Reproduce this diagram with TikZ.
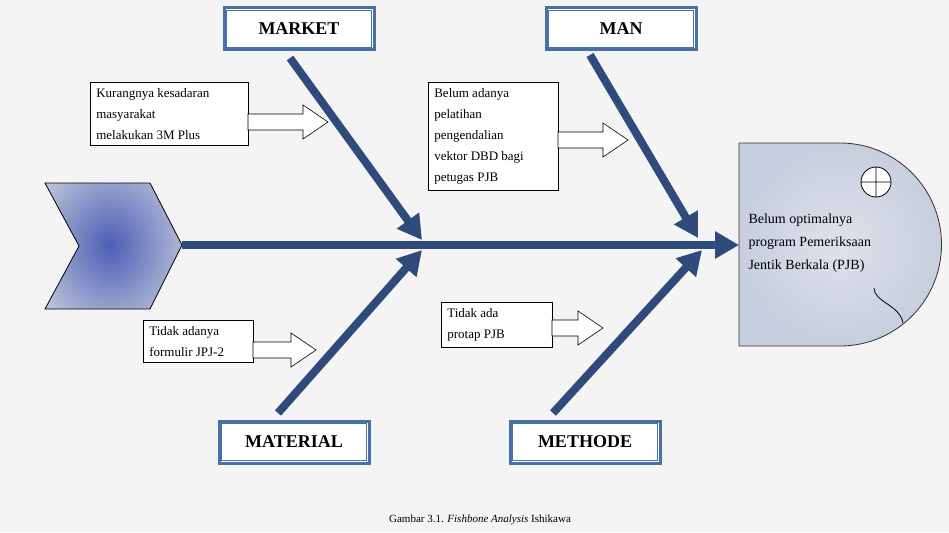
\documentclass[tikz,border=0pt]{standalone}
\usepackage{fontspec}
\setmainfont{Liberation Serif}
\usetikzlibrary{arrows.meta}
\definecolor{bone}{HTML}{2E4B7C}
\definecolor{bord}{HTML}{4A70A8}
\definecolor{headf}{HTML}{C7CEDD}
\definecolor{bg}{HTML}{F4F4F4}
\tikzset{
 bonel/.style={bone, line width=8pt, -{Triangle[length=24pt,width=26pt]}},
 cat/.style={draw=bord, line width=3pt, fill=white, minimum width=150pt, minimum height=42pt, inner sep=0pt, font=\fontsize{18}{20}\selectfont\bfseries},
 cause/.style={draw=black, line width=0.6pt, fill=white, align=flush left, anchor=north west, font=\fontsize{13}{21}\selectfont, inner sep=6pt, text width=#1},
 hollow/.style={draw=black, line width=0.6pt, fill=white}
}
\newcommand{\hollowarrow}[3]{% x1, x2, y
 \draw[hollow] (#1,#3-8) -- (#2-25,#3-8) -- (#2-25,#3-17) -- (#2,#3) -- (#2-25,#3+17) -- (#2-25,#3+8) -- (#1,#3+8) -- cycle;}
\begin{document}
\begin{tikzpicture}[x=1pt,y=-1pt]
\fill[bg] (0,0) rectangle (949,532);
\useasboundingbox (0,0) rectangle (949,532);
% tail
\begin{scope}
\clip (45,183) -- (150,183) -- (182,245) -- (150,309) -- (45,309) -- (79,246) -- cycle;
\shade[inner color=bone!70!blue!80, outer color=headf] (20,140) rectangle (200,350);
\end{scope}
\draw[line width=0.8pt] (45,183) -- (150,183) -- (182,245) -- (150,309) -- (45,309) -- (79,246) -- cycle;
\coordinate (tailtip) at (182,245);
% head
\shade[draw=black!80, line width=0.8pt, inner color=headf!60!white, outer color=headf]
 (739,143) -- (840,143) arc[start angle=-90,end angle=90,radius=101.5] -- (739,346) -- cycle;
\coordinate (headin) at (739,245);
\draw[fill=white, line width=0.8pt] (876,182) circle (15) (861,182) -- (891,182) (876,167) -- (876,197);
\draw[line width=0.8pt] (874,288) .. controls (874,302) and (900,305) .. (903,323);
\node[anchor=west, align=left, font=\fontsize{14}{23}\selectfont] (effect) at (745,243) {Belum optimalnya\\program Pemeriksaan\\Jentik Berkala (PJB)};
% spine
\draw[bonel] (tailtip) -- (headin);
% categories
\node[cat] (market) at (299,29) {MARKET};
\node[cat] (man) at (621,29) {MAN};
\node[cat] (material) at (294,442) {MATERIAL};
\node[cat] (methode) at (585,442) {METHODE};
\foreach \n in {market,man,material,methode}{
 \draw[bord, line width=0.8pt] ([xshift=4pt,yshift=-4pt]\n.north west) rectangle ([xshift=-4pt,yshift=4pt]\n.south east);}
\coordinate (j1) at (422,240);
\coordinate (j2) at (698,238);
\coordinate (j3) at (422,250);
\coordinate (j4) at (702,250);
\draw[bonel] (290,58) -- (j1);
\draw[bonel] (590,55) -- (j2);
\draw[bonel] (278,413) -- (j3);
\draw[bonel] (553,413) -- (j4);
% causes
\node[cause=146pt] (c1) at (90,82) {Kurangnya kesadaran\\masyarakat\\melakukan 3M Plus};
\node[cause=118pt] (c2) at (428,82) {Belum adanya\\pelatihan\\pengendalian\\vektor DBD bagi\\petugas PJB};
\node[cause=98pt] (c3) at (143,320) {Tidak adanya\\formulir JPJ-2};
\node[cause=99pt] (c4) at (441,302) {Tidak ada\\protap PJB};
\hollowarrow{248}{328}{122}
\hollowarrow{558}{628}{140}
\hollowarrow{253}{316}{350}
\hollowarrow{552}{603}{328}
\node[font=\fontsize{11}{13}\selectfont] (cap) at (480,520) {Gambar 3.1. \textit{Fishbone Analysis} Ishikawa};
\end{tikzpicture}
\end{document}
